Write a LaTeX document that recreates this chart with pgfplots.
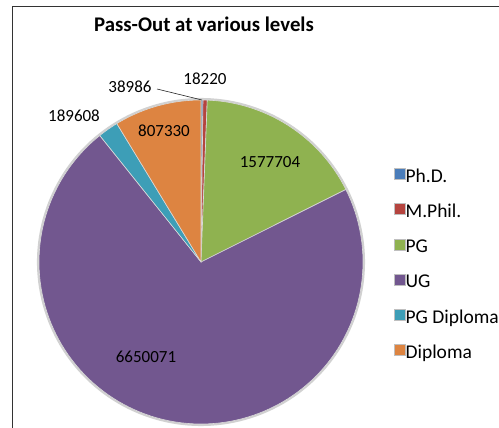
\documentclass[border=0pt]{standalone}
\usepackage{pgfplots}
\pgfplotsset{compat=1.18}
\usepackage{pgfplotstable}
\usepackage{fontspec}
\setmainfont{Carlito}

\definecolor{sl0}{HTML}{4A7DBA}
\definecolor{sl1}{HTML}{B5443F}
\definecolor{sl2}{HTML}{8FB250}
\definecolor{sl3}{HTML}{72578F}
\definecolor{sl4}{HTML}{3D9EB7}
\definecolor{sl5}{HTML}{DD8441}

\pgfplotstableread{
label value
Ph.D. 18220
M.Phil. 38986
PG 1577704
UG 6650071
PGDiploma 189608
Diploma 807330
}\piedata

\newcommand\fpucalc[2]{\begingroup\pgfkeys{/pgf/fpu=true,/pgf/fpu/output format=fixed}\pgfmathparse{#2}\xdef#1{\pgfmathresult}\endgroup}
\gdef\tot{0}%
\pgfplotsforeachungrouped \i in {0,1,2,3,4,5}{%
  \pgfplotstablegetelem{\i}{value}\of\piedata
  \fpucalc\tot{\tot+\pgfplotsretval}}%
\gdef\cum{0}%
\pgfplotsforeachungrouped \i in {0,1,2,3,4,5}{%
  \pgfplotstablegetelem{\i}{value}\of\piedata
  \fpucalc\as{90-360*\cum/\tot}%
  \fpucalc\cum{\cum+\pgfplotsretval}%
  \fpucalc\ae{90-360*\cum/\tot}%
  \expandafter\xdef\csname angS\i\endcsname{\as}%
  \expandafter\xdef\csname angE\i\endcsname{\ae}}%
\def\cx{201}\def\cy{166}\def\rr{162}%

\begin{document}%
\begin{tikzpicture}
\begin{axis}[
  at={(0,0)}, anchor=origin, x=1bp, y=1bp,
  xmin=0, xmax=499, ymin=0, ymax=428,
  hide axis, clip=false,
  legend style={at={(axis cs:391,262)}, anchor=north west, draw=none, fill=none,
    font=\fontsize{19.5bp}{21bp}\selectfont, row sep=17bp,
    nodes={inner sep=0pt, text height=12bp, text depth=4bp},
    /tikz/every even column/.append style={column sep=4bp}},
  legend cell align=left,
  legend image code/.code={\draw[#1, draw=white!75!black, line width=0.4bp] (0bp,-1bp) rectangle (11bp,10bp);},
]
% frame
\addplot[forget plot, black!80, line width=1bp] coordinates {(12,0) (12,421) (499,421)};
% shadow ring
\addplot[forget plot, draw=black!18, line width=2.5bp, domain=0:360, samples=180]
  ({\cx+(\rr+0.8)*cos(x)},{\cy+(\rr+0.8)*sin(x)});
\pgfplotsinvokeforeach{0,...,5}{%
  \addplot[fill=sl#1, draw=white!85!black, line width=0.6bp, domain=\csname angE#1\endcsname:\csname angS#1\endcsname, samples=120]
    ({\cx+\rr*cos(x)},{\cy+\rr*sin(x)}) -- (axis cs:\cx,\cy) -- cycle;
}
\legend{Ph.D., M.Phil., PG, UG, PG Diploma, Diploma}
% leader line
\addplot[forget plot, black!85, line width=0.6bp] coordinates {(157,339) (202,328)};
\node[font=\bfseries\fontsize{20.8bp}{22bp}\selectfont, anchor=base] at (axis cs:204,396.5) {Pass-Out at various levels};
\begin{scope}[every node/.style={font=\fontsize{17bp}{19bp}\selectfont, inner sep=0pt}]
\node at (axis cs:205,349) {18220};
\node at (axis cs:130,341) {38986};
\node at (axis cs:74,312) {189608};
\node at (axis cs:164,297) {807330};
\node at (axis cs:270,266) {1577704};
\node at (axis cs:146,71) {6650071};
\end{scope}
\end{axis}
\pgfresetboundingbox
\path[use as bounding box] (0,0) rectangle (499bp,428bp);
\end{tikzpicture}%
\end{document}
